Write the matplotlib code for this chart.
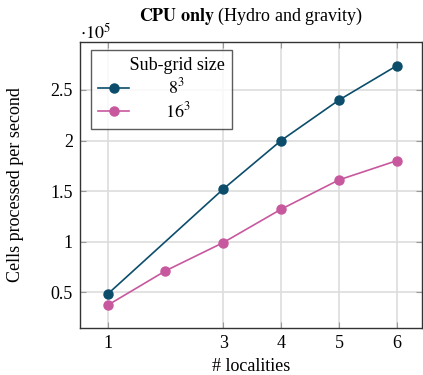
import numpy as np
import matplotlib.pyplot as plt

# throughput (cells per second, in units of 1e5) vs number of localities
loc_8 = [1, 3, 4, 5, 6]
cells_8 = [0.48, 1.52, 2.00, 2.40, 2.74]
loc_16 = [1, 2, 3, 4, 5, 6]
cells_16 = [0.37, 0.71, 0.99, 1.32, 1.61, 1.80]
xticks = [1, 3, 4, 5, 6]
yticks = [0.5, 1.0, 1.5, 2.0, 2.5]
ytick_labels = ['0.5', '1', '1.5', '2', '2.5']

plt.rcParams['font.family'] = 'Liberation Serif'
plt.rcParams['mathtext.fontset'] = 'stix'
fs = 13

fig = plt.figure(figsize=(4.23, 3.75), dpi=100)
ax = fig.add_axes([0.189, 0.125, 0.809, 0.763])

ax.plot(loc_8, cells_8, '-o', color='#0b4d6b', lw=1.2, markersize=6.5, label=r'$\;8^3$')
ax.plot(loc_16, cells_16, '-o', color='#c8589e', lw=1.2, markersize=6.5, label='$16^3$')

ax.set_xlim(0.52, 6.44)
ax.set_ylim(0.143, 2.975)
ax.set_xticks(xticks)
ax.set_yticks(yticks)
ax.set_yticklabels(ytick_labels)
ax.grid(True, color='#dddddd', lw=1.2)
ax.set_axisbelow(True)
ax.tick_params(direction='in', length=4, color='#999999', labelsize=fs,
               top=True, right=True, pad=5)
for s in ax.spines.values():
    s.set_linewidth(1.0)
    s.set_color('#333333')

ax.set_xlabel('# localities', fontsize=fs, labelpad=4)
ax.set_ylabel('Cells processed per second', fontsize=fs, labelpad=19)
ax.set_title(r'$\mathbf{CPU\ only}$ (Hydro and gravity)', fontsize=fs, pad=15)
fig.text(0.190, 0.897, r'$\cdot 10^5$', fontsize=fs, ha='left', va='baseline')

leg = ax.legend(title='       Sub-grid size', loc='upper left',
                bbox_to_anchor=(11 / 342, 1 - 8 / 286), borderaxespad=0,
                fontsize=fs, title_fontsize=fs, frameon=True, fancybox=False,
                edgecolor='#333333', handlelength=1.7, handletextpad=2.0,
                labelspacing=0.2, borderpad=0.4, alignment='left')
leg.get_frame().set_linewidth(1.0)

fig.savefig('out.png', dpi=100)
